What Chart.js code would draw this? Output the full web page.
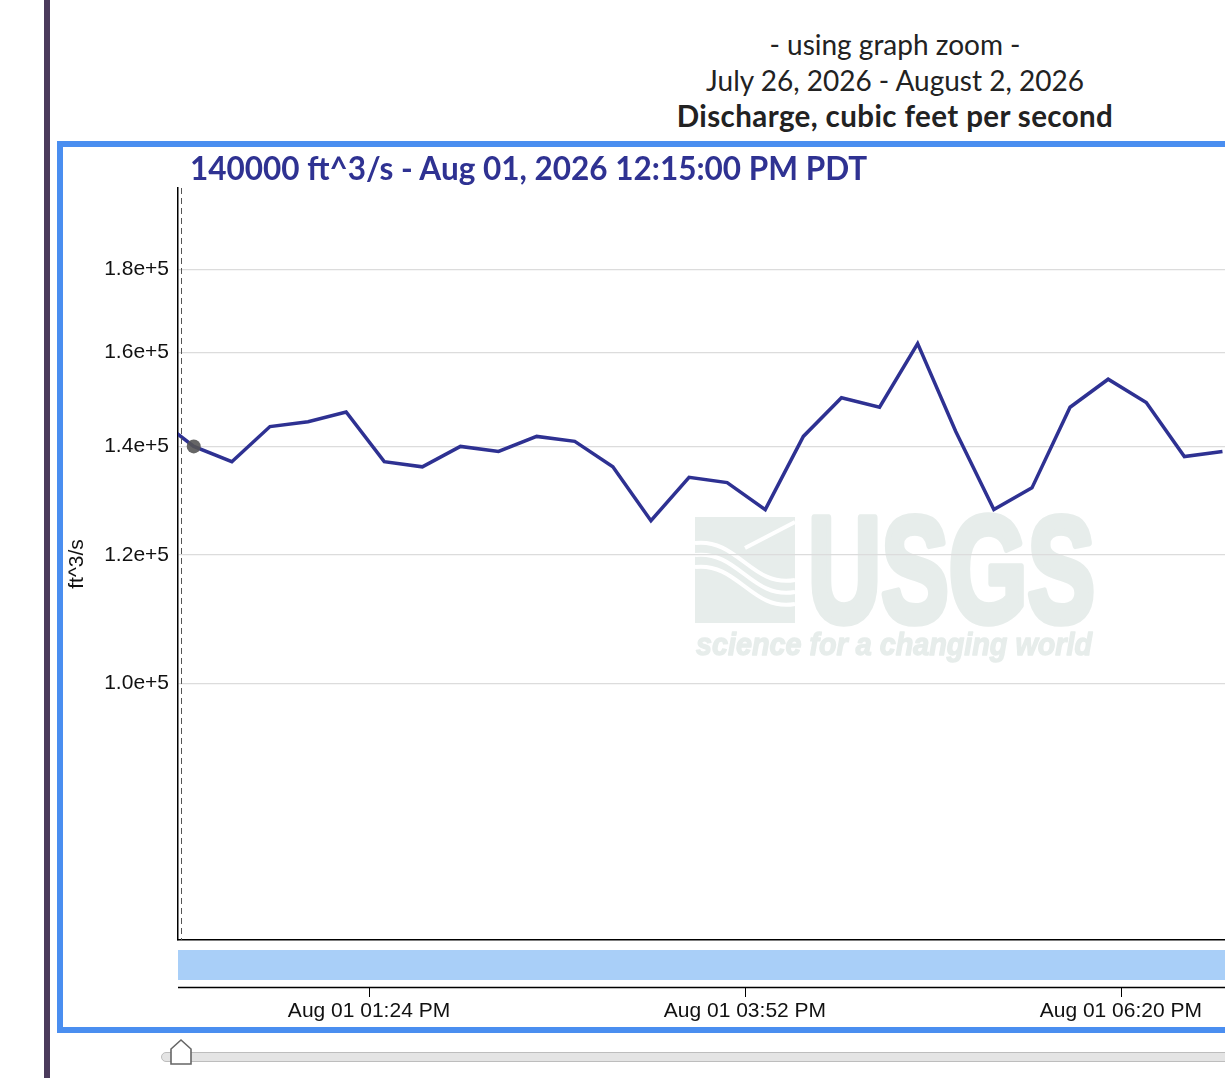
<!DOCTYPE html>
<html>
<head>
<meta charset="utf-8">
<script src="https://cdn.jsdelivr.net/npm/chart.js@4"></script>
<style>
  html, body { margin: 0; padding: 0; background: #fff; }
  body { width: 1225px; height: 1080px; overflow: hidden; position: relative; font-family: "Lato", sans-serif; }
  #sidebar { position: absolute; left: 44px; top: 0; width: 6px; height: 1078px; background: #4b3b5c; }
  #heading { position: absolute; left: 395px; top: 27px; width: 1000px; text-align: center; color: #222; font-size: 28px; line-height: 35.5px; }
  #heading b { font-weight: 700; font-size: 29.5px; letter-spacing: 0.4px; }
  #frame { position: absolute; left: 57px; top: 141px; width: 1300px; height: 892px; border: 6px solid #4a8ef0; box-sizing: border-box; }
  #hover { position: absolute; left: 190px; top: 149px; color: #2f3292; font-weight: 700; font-size: 31.5px; white-space: nowrap; }
  #chartBox { position: absolute; left: 63px; top: 147px; width: 1162px; height: 880px; }
  #track { position: absolute; left: 161px; top: 1052px; width: 1100px; height: 8px; background: #e4e4e4; border: 1px solid #bdbdbd; border-radius: 5px; }
  #handle { position: absolute; left: 168px; top: 1038px; }
</style>
</head>
<body>
<div id="sidebar"></div>
<div id="heading">- using graph zoom -<br>July 26, 2026 - August 2, 2026<br><b>Discharge, cubic feet per second</b></div>
<div id="frame"></div>
<div id="chartBox"><canvas id="chart"></canvas></div>
<div id="hover">140000 ft^3/s - Aug 01, 2026 12:15:00 PM PDT</div>
<div id="track"></div>
<svg id="handle" width="28" height="30"><polygon points="3,11 13,2 23,11 23,26 3,26" fill="#fff" stroke="#666" stroke-width="1.6"/></svg>

<script>
// readings on Aug 01, 2026 (PDT), 15 minute steps
const times = ["12:00", "12:15", "12:30", "12:45", "13:00", "13:15", "13:30", "13:45",
  "14:00", "14:15", "14:30", "14:45", "15:00", "15:15", "15:30", "15:45",
  "16:00", "16:15", "16:30", "16:45", "17:00", "17:15", "17:30", "17:45",
  "18:00", "18:15", "18:30", "18:45", "19:00"];
const discharge = [146000, 140000, 137000, 144000, 145000, 147000, 137000, 136000,
  140000, 139000, 142000, 141000, 136000, 126000, 134000, 133000,
  128000, 142000, 150000, 148000, 162000, 143000, 128000, 132000,
  148000, 154000, 149000, 138000, 139000];

const hoverTime = "12:15";

const xTickTimes = ["13:24", "15:52", "18:20"];
const xTickLabels = ["Aug 01 01:24 PM", "Aug 01 03:52 PM", "Aug 01 06:20 PM"];
const yTicks = [100000, 120000, 140000, 160000, 180000];

// zoomed window
const xMin = 728.8;
const xMax = 1141;
const yMin = 69500;
const yMax = 202000;

function toMinutes(t) {
  const [h, m] = t.split(":").map(Number);
  return h * 60 + m;
}

const points = times.map((t, i) => ({ x: toMinutes(t), y: discharge[i] }));
const radii = times.map(t => (t === hoverTime ? 7 : 0));

const watermarkColor = "#e7edeb";

// fits a string into a box (used for the watermark)
function boxText(ctx, text, font, x, y, w, h, thicken) {
  ctx.save();
  ctx.font = font;
  const m = ctx.measureText(text);
  const tw = m.width;
  const th = m.actualBoundingBoxAscent + m.actualBoundingBoxDescent;
  ctx.translate(x, y);
  ctx.scale(w / tw, h / th);
  ctx.fillText(text, 0, m.actualBoundingBoxAscent);
  if (thicken) {
    ctx.lineWidth = thicken;
    ctx.lineJoin = "round";
    ctx.strokeStyle = ctx.fillStyle;
    ctx.strokeText(text, 0, m.actualBoundingBoxAscent);
  }
  ctx.restore();
}

const decor = {
  id: "decor",
  beforeDraw(chart) {
    const ctx = chart.ctx;
    const off = chart.canvas.getBoundingClientRect();
    const ox = -off.left, oy = -off.top; // page coords -> canvas coords
    ctx.save();
    ctx.fillStyle = watermarkColor;
    // logo block
    ctx.fillRect(695 + ox, 517 + oy, 100, 106);
    ctx.strokeStyle = "#fff";
    ctx.lineWidth = 4;
    ctx.beginPath();
    for (let k = 0; k < 3; k++) {
      ctx.moveTo(695 + ox, 543 + k * 12 + oy);
      ctx.bezierCurveTo(738 + ox, 538 + k * 12 + oy, 752 + ox, 588 + k * 12 + oy, 795 + ox, 580 + k * 12 + oy);
    }
    ctx.stroke();
    ctx.beginPath();
    ctx.moveTo(795 + ox, 522 + oy);
    ctx.lineTo(745 + ox, 548 + oy);
    ctx.stroke();
    boxText(ctx, "USGS", "bold 140px 'Liberation Sans Narrow', 'Liberation Sans'", 808 + ox, 517 + oy, 287, 106, 7);
    boxText(ctx, "science for a changing world", "italic bold 34px 'Liberation Sans Narrow', 'Liberation Sans'", 696 + ox, 633 + oy, 396, 29, 1.5);
    ctx.restore();
  },
  afterDraw(chart) {
    const ctx = chart.ctx;
    const area = chart.chartArea;
    const xs = chart.scales.x;
    ctx.save();
    // dashed guide next to the axis
    ctx.strokeStyle = "#555";
    ctx.lineWidth = 1;
    ctx.setLineDash([6, 4]);
    ctx.beginPath();
    ctx.moveTo(area.left + 3.5, area.top);
    ctx.lineTo(area.left + 3.5, area.bottom);
    ctx.stroke();
    ctx.setLineDash([]);
    // zoom band
    ctx.fillStyle = "#a9cff8";
    ctx.fillRect(area.left, area.bottom + 10, area.right - area.left, 30);
    // lower axis line with ticks
    ctx.strokeStyle = "#000";
    ctx.lineWidth = 1.5;
    ctx.beginPath();
    ctx.moveTo(area.left, area.bottom + 47.5);
    ctx.lineTo(area.right, area.bottom + 47.5);
    ctx.stroke();
    ctx.lineWidth = 1;
    ctx.beginPath();
    xs.ticks.forEach(t => {
      const px = Math.round(xs.getPixelForValue(t.value)) + 0.5;
      ctx.moveTo(px, area.bottom + 48);
      ctx.lineTo(px, area.bottom + 57);
    });
    ctx.stroke();
    ctx.restore();
  }
};

new Chart(document.getElementById("chart"), {
  type: "line",
  data: {
    datasets: [{
      label: "Discharge",
      data: points,
      borderColor: "#2e3192",
      borderWidth: 3.5,
      tension: 0,
      clip: 0,
      pointRadius: radii,
      pointHoverRadius: radii,
      pointBorderWidth: 0,
      pointBackgroundColor: "rgba(85,85,85,0.9)"
    }]
  },
  options: {
    responsive: true,
    maintainAspectRatio: false,
    animation: false,
    events: [],
    layout: { padding: { top: 41, left: 0, right: 0, bottom: 0 } },
    plugins: {
      legend: { display: false },
      tooltip: { enabled: false },
      title: { display: false }
    },
    scales: {
      x: {
        type: "linear",
        min: xMin,
        max: xMax,
        afterBuildTicks: s => { s.ticks = xTickTimes.map(t => ({ value: toMinutes(t) })); },
        afterFit: s => { s.height = 87; s.paddingLeft = 0; s.paddingRight = 0; },
        grid: { display: false },
        border: { display: true, color: "#000", width: 1.5 },
        ticks: {
          padding: 51,
          maxRotation: 0,
          autoSkip: false,
          color: "#111",
          font: { family: "'Liberation Sans', Arial, sans-serif", size: 21 },
          callback: function (v) {
            const i = xTickTimes.findIndex(t => toMinutes(t) === v);
            return i >= 0 ? xTickLabels[i] : "";
          }
        }
      },
      y: {
        type: "logarithmic",
        min: yMin,
        max: yMax,
        afterBuildTicks: s => { s.ticks = yTicks.map(v => ({ value: v })); },
        afterFit: s => { s.width = 115; s.paddingTop = 0; s.paddingBottom = 0; },
        grid: { color: "#dcdcdc", lineWidth: 1.2, drawTicks: false },
        border: { display: true, color: "#000", width: 1.5 },
        title: {
          display: true,
          text: "ft^3/s",
          color: "#111",
          padding: { top: 2, bottom: 0 },
          font: { family: "'Liberation Sans', Arial, sans-serif", size: 21 }
        },
        ticks: {
          padding: 9,
          color: "#111",
          font: { family: "'Liberation Sans', Arial, sans-serif", size: 21 },
          callback: v => Number(v).toExponential(1)
        }
      }
    }
  },
  plugins: [decor]
});
</script>
</body>
</html>
